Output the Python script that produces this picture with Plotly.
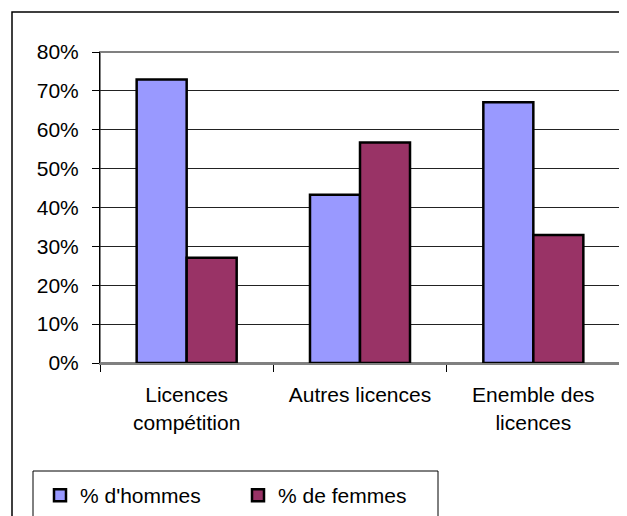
import plotly.graph_objects as go

categories = ["Licences<br>compétition", "Autres licences", "Enemble des<br>licences"]
hommes = [0.729, 0.433, 0.671]
femmes = [0.271, 0.567, 0.329]
series_names = ["% d'hommes", "% de femmes"]

OFF = 8  # page body margin
W, H = 627 - OFF, 516 - OFF
# plot area in window pixels: x 100..620, y 52..363
ml, mt = 100 - OFF, 52 - OFF
mr = W - (620 - OFF)
mb = H - (363 - OFF)
pw, ph = W - ml - mr, H - mt - mb

def px_x(p):  # window pixel -> paper
    return (p - OFF - ml) / pw

def px_y(p):
    return (H - mb - (p - OFF)) / ph

FONT = "Arial, Liberation Sans, sans-serif"
FS = 21

fig = go.Figure()
fig.add_trace(go.Bar(x=categories, y=hommes, name=series_names[0],
                     marker=dict(color="#9999FF", line=dict(color="#000000", width=2.5))))
fig.add_trace(go.Bar(x=categories, y=femmes, name=series_names[1],
                     marker=dict(color="#993366", line=dict(color="#000000", width=2.5))))

fig.update_layout(
    width=W, height=H,
    margin=dict(l=ml, r=mr, t=mt, b=mb, autoexpand=False),
    paper_bgcolor="white", plot_bgcolor="white",
    font=dict(family=FONT, size=FS, color="#000000"),
    barmode="group", bargap=0.423, bargroupgap=0,
    showlegend=True,
    legend=dict(orientation="h", x=px_x(40), y=px_y(475), xanchor="left", yanchor="top",
                bgcolor="rgba(0,0,0,0)", borderwidth=0,
                font=dict(family=FONT, size=FS, color="#000000"),
                entrywidth=153, entrywidthmode="pixels"),
    xaxis=dict(showgrid=False, ticks="outside", tickson="boundaries", ticklen=7,
               tickcolor="#000000", tickwidth=1, showline=True, linecolor="#808080",
               linewidth=2, ticklabelstandoff=12, tickfont=dict(size=FS), automargin=False),
    yaxis=dict(range=[0, 0.8], dtick=0.1, tickformat=".0%", showgrid=True,
               gridcolor="#222222", gridwidth=1, ticks="outside", ticklen=7,
               tickcolor="#000000", showline=True, linecolor="#000000", linewidth=1,
               ticklabelstandoff=9, zeroline=False, tickfont=dict(size=FS), automargin=False),
    shapes=[
        dict(type="rect", xref="paper", yref="paper", x0=0, y0=0, x1=1, y1=1,
             line=dict(color="#808080", width=2), layer="below"),
        dict(type="rect", xref="paper", yref="paper", x0=px_x(12), y0=px_y(12),
             x1=px_x(660), y1=px_y(560), line=dict(color="#000000", width=1.5)),
        dict(type="rect", xref="paper", yref="paper", x0=px_x(33), y0=px_y(471),
             x1=px_x(438), y1=px_y(560), line=dict(color="#000000", width=1)),
    ],
)

fig.write_html("out.html")
